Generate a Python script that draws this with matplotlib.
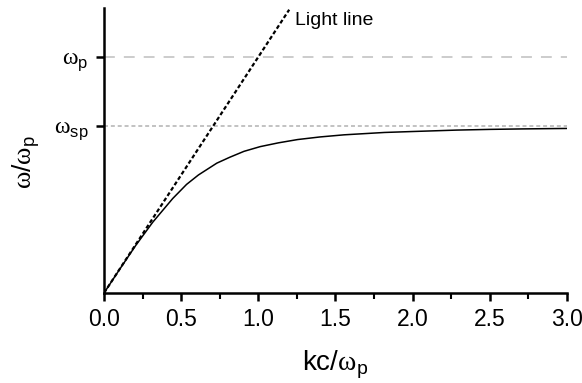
import matplotlib
matplotlib.use("Agg")
import matplotlib.pyplot as plt
from matplotlib.ticker import MultipleLocator

plt.rcParams['font.family'] = ['Liberation Sans', 'DejaVu Sans']
plt.rcParams['mathtext.fontset'] = 'custom'
plt.rcParams['mathtext.rm'] = 'Liberation Serif'
plt.rcParams['mathtext.sf'] = 'Liberation Sans'

# SPP dispersion curve (kc/wp, w/wp)
k_spp = [0.0, 0.10, 0.204, 0.316, 0.445, 0.535, 0.612, 0.731, 0.815, 0.907,
         1.012, 1.130, 1.255, 1.400, 1.556, 1.818, 2.000, 2.284, 2.500, 2.710, 3.0]
w_spp = [0.0, 0.099, 0.200, 0.300, 0.400, 0.460, 0.500, 0.550, 0.575, 0.600,
         0.620, 0.636, 0.650, 0.661, 0.670, 0.680, 0.684, 0.690, 0.693, 0.695, 0.697]

# Light line
k_light = [0.0, 1.2]
w_light = [0.0, 1.2]

w_p = 1.0
w_sp = 0.707
x_ticks = [0.0, 0.5, 1.0, 1.5, 2.0, 2.5, 3.0]
x_tick_labels = ['0.0', '0.5', '1.0', '1.5', '2.0', '2.5', '3.0']
y_tick_labels = [r'$\mathrm{ω}_{\mathsf{sp}}$', r'$\mathrm{ω}_{\mathsf{p}}$']

fig = plt.figure(figsize=(5.82, 3.83), dpi=100)
ax = fig.add_axes([0.1787, 0.235, 0.7955, 0.744])

ax.axhline(w_p, color='#c8c8c8', lw=1.3, dashes=(6, 5), zorder=1)
ax.axhline(w_sp, color='#bdbdbd', lw=1.3, dashes=(2.2, 1.6), zorder=1)
ax.plot(k_light, w_light, color='black', lw=1.6, dashes=(1.8, 1.1), zorder=3)
ax.plot(k_spp, w_spp, color='black', lw=1.1, zorder=4)

ax.text(1.235, 1.155, 'Light line', fontsize=14, ha='left', va='center')

ax.set_xlim(0, 3.0)
ax.set_ylim(0, 1.207)
ax.set_xticks(x_ticks)
ax.set_xticklabels(x_tick_labels, fontsize=16.5)
ax.xaxis.set_minor_locator(MultipleLocator(0.25))
ax.set_yticks([w_sp, w_p])
ax.set_yticklabels(y_tick_labels, fontsize=17)

for s in ['top', 'right']:
    ax.spines[s].set_visible(False)
for s in ['left', 'bottom']:
    ax.spines[s].set_linewidth(1.8)
ax.tick_params(axis='both', which='major', direction='out', length=6, width=1.8, pad=5)
ax.tick_params(axis='x', which='minor', direction='out', length=4, width=1.5)

ax.set_xlabel(r'kc/$\mathrm{ω}_{\mathsf{p}}$', fontsize=20, labelpad=12)
ax.set_ylabel(r'$\mathrm{ω}$/$\mathrm{ω}_{\mathsf{p}}$', fontsize=19)
ax.yaxis.set_label_coords(-0.135, 0.46)

fig.savefig('out.png', dpi=100)
